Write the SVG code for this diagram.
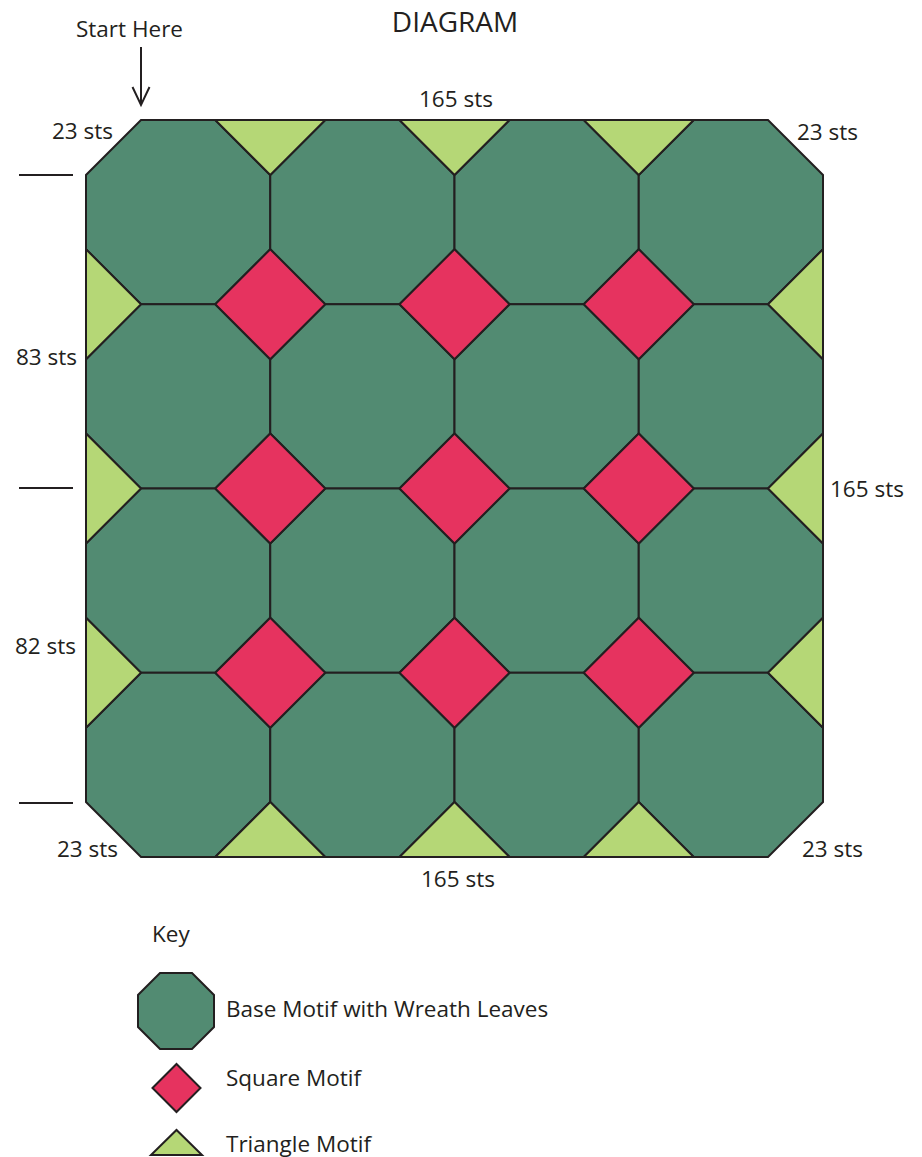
<svg xmlns="http://www.w3.org/2000/svg" width="922" height="1157" viewBox="0 0 922 1157">
<style>
.oct{fill:#528B72;stroke:#231F20;stroke-width:2;stroke-linejoin:miter}
.sq{fill:#E6335F;stroke:#231F20;stroke-width:2}
.tri{fill:#B5D776;stroke:#231F20;stroke-width:2}
.ln{stroke:#231F20;stroke-width:2;fill:none}
text{font-family:"Open Sans","Noto Sans","Liberation Sans",sans-serif;font-size:22.5px;fill:#231F20}
</style>
<rect width="922" height="1157" fill="#fff"/>
<text x="455" y="32" text-anchor="middle" style="font-size:28px">DIAGRAM</text>
<g id="start-here">
<text x="76" y="37">Start Here</text>
</g>
<g id="connectors">
<line class="ln" x1="141" y1="47" x2="141" y2="104"/>
<polyline class="ln" points="132.5,87 141,105 149.5,87"/>
<line class="ln" x1="19" y1="175" x2="73" y2="175"/>
<line class="ln" x1="19" y1="488" x2="73" y2="488"/>
<line class="ln" x1="19" y1="803" x2="73" y2="803"/>
</g>
<g id="octagons">
<g id="oct-r1c1"><polygon class="oct" points="141,120 215.25,120 270.25,175 270.25,249.25 215.25,304.25 141,304.25 86,249.25 86,175"/></g>
<g id="oct-r1c2"><polygon class="oct" points="325.25,120 399.5,120 454.5,175 454.5,249.25 399.5,304.25 325.25,304.25 270.25,249.25 270.25,175"/></g>
<g id="oct-r1c3"><polygon class="oct" points="509.5,120 583.75,120 638.75,175 638.75,249.25 583.75,304.25 509.5,304.25 454.5,249.25 454.5,175"/></g>
<g id="oct-r1c4"><polygon class="oct" points="693.75,120 768,120 823,175 823,249.25 768,304.25 693.75,304.25 638.75,249.25 638.75,175"/></g>
<g id="oct-r2c1"><polygon class="oct" points="141,304.25 215.25,304.25 270.25,359.25 270.25,433.5 215.25,488.5 141,488.5 86,433.5 86,359.25"/></g>
<g id="oct-r2c2"><polygon class="oct" points="325.25,304.25 399.5,304.25 454.5,359.25 454.5,433.5 399.5,488.5 325.25,488.5 270.25,433.5 270.25,359.25"/></g>
<g id="oct-r2c3"><polygon class="oct" points="509.5,304.25 583.75,304.25 638.75,359.25 638.75,433.5 583.75,488.5 509.5,488.5 454.5,433.5 454.5,359.25"/></g>
<g id="oct-r2c4"><polygon class="oct" points="693.75,304.25 768,304.25 823,359.25 823,433.5 768,488.5 693.75,488.5 638.75,433.5 638.75,359.25"/></g>
<g id="oct-r3c1"><polygon class="oct" points="141,488.5 215.25,488.5 270.25,543.5 270.25,617.75 215.25,672.75 141,672.75 86,617.75 86,543.5"/></g>
<g id="oct-r3c2"><polygon class="oct" points="325.25,488.5 399.5,488.5 454.5,543.5 454.5,617.75 399.5,672.75 325.25,672.75 270.25,617.75 270.25,543.5"/></g>
<g id="oct-r3c3"><polygon class="oct" points="509.5,488.5 583.75,488.5 638.75,543.5 638.75,617.75 583.75,672.75 509.5,672.75 454.5,617.75 454.5,543.5"/></g>
<g id="oct-r3c4"><polygon class="oct" points="693.75,488.5 768,488.5 823,543.5 823,617.75 768,672.75 693.75,672.75 638.75,617.75 638.75,543.5"/></g>
<g id="oct-r4c1"><polygon class="oct" points="141,672.75 215.25,672.75 270.25,727.75 270.25,802 215.25,857 141,857 86,802 86,727.75"/></g>
<g id="oct-r4c2"><polygon class="oct" points="325.25,672.75 399.5,672.75 454.5,727.75 454.5,802 399.5,857 325.25,857 270.25,802 270.25,727.75"/></g>
<g id="oct-r4c3"><polygon class="oct" points="509.5,672.75 583.75,672.75 638.75,727.75 638.75,802 583.75,857 509.5,857 454.5,802 454.5,727.75"/></g>
<g id="oct-r4c4"><polygon class="oct" points="693.75,672.75 768,672.75 823,727.75 823,802 768,857 693.75,857 638.75,802 638.75,727.75"/></g>
</g>
<g id="squares">
<g id="sq-1-1"><polygon class="sq" points="215.25,304.25 270.25,249.25 325.25,304.25 270.25,359.25"/></g>
<g id="sq-1-2"><polygon class="sq" points="399.5,304.25 454.5,249.25 509.5,304.25 454.5,359.25"/></g>
<g id="sq-1-3"><polygon class="sq" points="583.75,304.25 638.75,249.25 693.75,304.25 638.75,359.25"/></g>
<g id="sq-2-1"><polygon class="sq" points="215.25,488.5 270.25,433.5 325.25,488.5 270.25,543.5"/></g>
<g id="sq-2-2"><polygon class="sq" points="399.5,488.5 454.5,433.5 509.5,488.5 454.5,543.5"/></g>
<g id="sq-2-3"><polygon class="sq" points="583.75,488.5 638.75,433.5 693.75,488.5 638.75,543.5"/></g>
<g id="sq-3-1"><polygon class="sq" points="215.25,672.75 270.25,617.75 325.25,672.75 270.25,727.75"/></g>
<g id="sq-3-2"><polygon class="sq" points="399.5,672.75 454.5,617.75 509.5,672.75 454.5,727.75"/></g>
<g id="sq-3-3"><polygon class="sq" points="583.75,672.75 638.75,617.75 693.75,672.75 638.75,727.75"/></g>
</g>
<g id="triangles">
<g id="tri-top-1"><polygon class="tri" points="215.25,120 325.25,120 270.25,175"/></g>
<g id="tri-top-2"><polygon class="tri" points="399.5,120 509.5,120 454.5,175"/></g>
<g id="tri-top-3"><polygon class="tri" points="583.75,120 693.75,120 638.75,175"/></g>
<g id="tri-bot-1"><polygon class="tri" points="215.25,857 325.25,857 270.25,802"/></g>
<g id="tri-bot-2"><polygon class="tri" points="399.5,857 509.5,857 454.5,802"/></g>
<g id="tri-bot-3"><polygon class="tri" points="583.75,857 693.75,857 638.75,802"/></g>
<g id="tri-left-1"><polygon class="tri" points="86,249.25 86,359.25 141,304.25"/></g>
<g id="tri-left-2"><polygon class="tri" points="86,433.5 86,543.5 141,488.5"/></g>
<g id="tri-left-3"><polygon class="tri" points="86,617.75 86,727.75 141,672.75"/></g>
<g id="tri-right-1"><polygon class="tri" points="823,249.25 823,359.25 768,304.25"/></g>
<g id="tri-right-2"><polygon class="tri" points="823,433.5 823,543.5 768,488.5"/></g>
<g id="tri-right-3"><polygon class="tri" points="823,617.75 823,727.75 768,672.75"/></g>
</g>
<g id="labels">
<text x="419" y="107">165 sts</text>
<text x="52" y="139">23 sts</text>
<text x="797" y="140">23 sts</text>
<text x="16" y="365">83 sts</text>
<text x="830" y="497">165 sts</text>
<text x="15" y="654">82 sts</text>
<text x="57" y="857">23 sts</text>
<text x="802" y="857">23 sts</text>
<text x="421" y="887">165 sts</text>
</g>
<g id="key">
<text x="152" y="942">Key</text>
<g id="key-base"><polygon class="oct" points="160,973 192,973 214,995 214,1027 192,1049 160,1049 138,1027 138,995"/><text x="226" y="1017">Base Motif with Wreath Leaves</text></g>
<g id="key-square"><polygon class="sq" points="152.5,1088 176.5,1064 200.5,1088 176.5,1112"/><text x="226" y="1086">Square Motif</text></g>
<g id="key-triangle"><polygon class="tri" points="151,1155 202,1155 176.5,1130"/><text x="226" y="1152">Triangle Motif</text></g>
</g>
</svg>
